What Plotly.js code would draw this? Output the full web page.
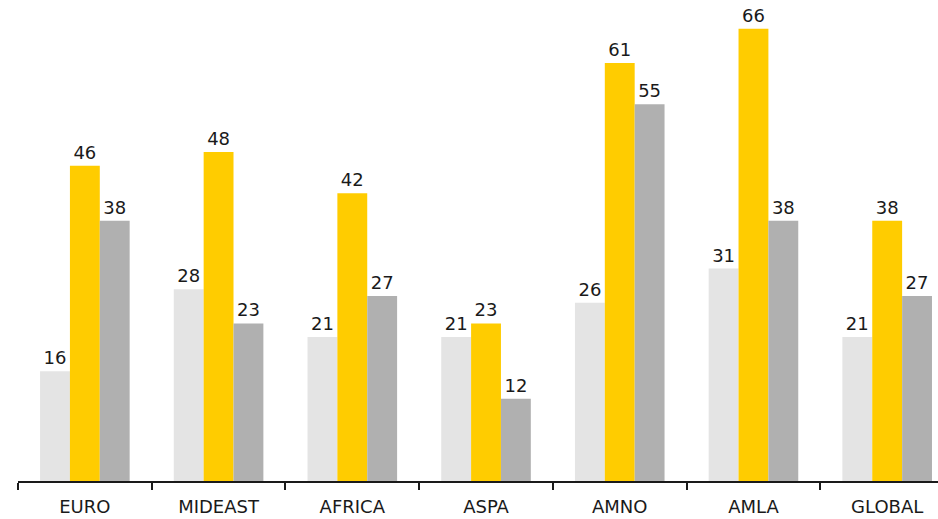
<!DOCTYPE html>
<html>
<head>
<meta charset="utf-8">
<script src="https://cdn.plot.ly/plotly-3.0.1.min.js"></script>
<style>html,body{margin:0;padding:0;background:#fff;}#chart{width:938px;height:519px;}</style>
</head>
<body>
<div id="chart"></div>
<script>
const categories = ["EURO", "MIDEAST", "AFRICA", "ASPA", "AMNO", "AMLA", "GLOBAL"];
const seriesA = [16, 28, 21, 21, 26, 31, 21];
const seriesB = [46, 48, 42, 23, 61, 66, 38];
const seriesC = [38, 23, 27, 12, 55, 38, 27];
const colors = ["#e4e4e4", "#ffcc00", "#b0b0b0"];
const fontFamily = "'DejaVu Sans', 'Noto Sans', sans-serif";

function trace(vals, color, name) {
  return {
    type: "bar",
    x: categories,
    y: vals,
    name: name,
    marker: {color: color},
    text: vals.map(String),
    textposition: "outside",
    textfont: {family: fontFamily, size: 18, color: "#1a1a1a"},
    cliponaxis: false,
    hoverinfo: "skip"
  };
}

const data = [
  trace(seriesA, colors[0], "A"),
  trace(seriesB, colors[1], "B"),
  trace(seriesC, colors[2], "C")
];

const layout = {
  width: 938,
  height: 519,
  margin: {l: 18, r: 0, t: 0, b: 38},
  paper_bgcolor: "#ffffff",
  plot_bgcolor: "#ffffff",
  showlegend: false,
  barmode: "group",
  bargap: 0.33,
  bargroupgap: 0,
  font: {family: fontFamily, size: 18, color: "#1a1a1a"},
  xaxis: {
    type: "category",
    range: [-0.5, 6.38],
    showline: true,
    linecolor: "#1a1a1a",
    linewidth: 2,
    ticks: "outside",
    tickson: "boundaries",
    ticklen: 7,
    tickwidth: 2,
    tickcolor: "#1a1a1a",
    ticklabelstandoff: 8,
    showgrid: false,
    zeroline: false,
    tickfont: {family: fontFamily, size: 18, color: "#1a1a1a"}
  },
  yaxis: {
    range: [0, 70.2],
    visible: false,
    showgrid: false,
    zeroline: false
  }
};

Plotly.newPlot("chart", data, layout, {displayModeBar: false, staticPlot: true});
</script>
</body>
</html>
